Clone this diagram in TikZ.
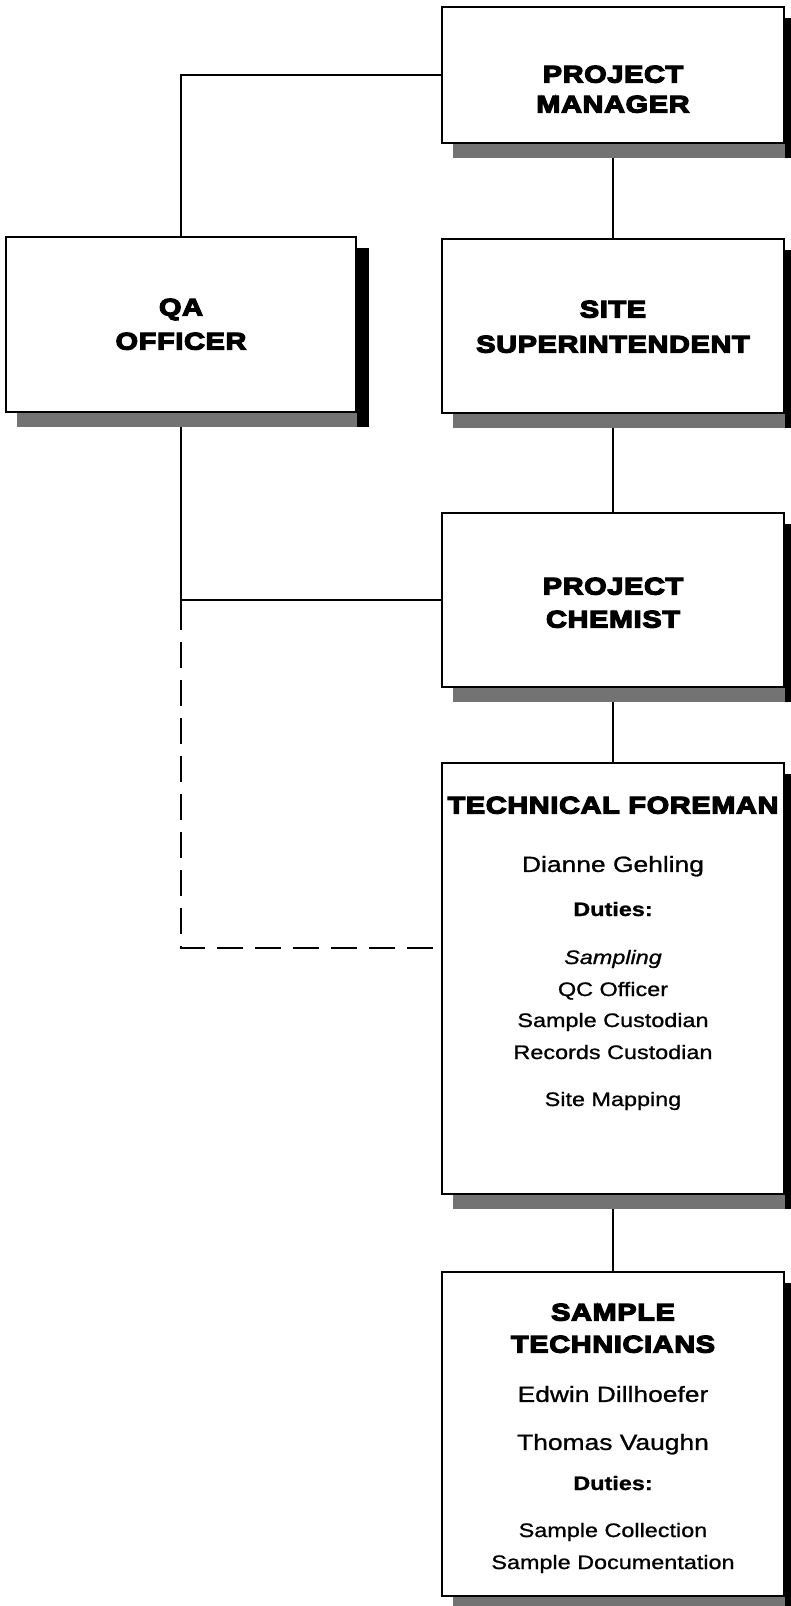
\documentclass[tikz,border=0pt]{standalone}
\usepackage{fontspec}
\setmainfont{Liberation Sans}
\newfontfamily\ttlfam{Liberation Sans}[FakeStretch=1.2, LetterSpace=3, BoldFeatures={FakeBold=5.5}]
\newfontfamily\bodyfam{Liberation Sans}[FakeStretch=1.2, FakeBold=1]
\usetikzlibrary{backgrounds}
\tikzset{
  orgbox/.style={draw=black, line width=2pt, fill=white, inner sep=0pt, minimum width=342pt},
  conn/.style={draw=black, line width=2.2pt},
  ttl/.style={font=\ttlfam\bfseries\fontsize{24}{28}\selectfont, inner sep=0pt, text height=17pt, text depth=0pt},
  bignm/.style={font=\bodyfam\fontsize{22}{26}\selectfont, inner sep=0pt, text height=15.8pt, text depth=0pt},
  dutyln/.style={font=\bodyfam\fontsize{19.5}{23}\selectfont, inner sep=0pt, text height=14pt, text depth=0pt},
  dutyhd/.style={font=\bodyfam\bfseries\fontsize{19.5}{23}\selectfont, inner sep=0pt, text height=14pt, text depth=0pt},
  shadegray/.style={fill=black!55},
}
\newcommand\boxshadow[1]{%
  \fill[shadegray] ([shift={(12,0)}]#1.south west) rectangle ([shift={(12,14)}]#1.south east);
  \fill[black] ([shift={(0,12)}]#1.north east) rectangle ([shift={(12,14)}]#1.south east);
}
\begin{document}
\begin{tikzpicture}[x=1pt,y=-1pt]
\useasboundingbox (0,0) rectangle (791,1606);

% boxes
\node[orgbox, minimum height=136pt] (pm) at (613,75) {};
\node[orgbox, minimum width=350pt, minimum height=175pt] (qa) at (181,324.5) {};
\node[orgbox, minimum height=174pt] (ss) at (613,326) {};
\node[orgbox, minimum height=174pt] (pc) at (613,600) {};
\node[orgbox, minimum height=431pt] (tf) at (613,978.5) {};
\node[orgbox, minimum height=324pt] (st) at (613,1434) {};

% titles
\node[ttl] (pmt1) at (613,74) {PROJECT};
\node[ttl] (pmt2) at (613,104) {MANAGER};
\node[ttl] (qat1) at (181,307) {QA};
\node[ttl] (qat2) at (181,341) {OFFICER};
\node[ttl] (sst1) at (613,309) {SITE};
\node[ttl] (sst2) at (613,344) {SUPERINTENDENT};
\node[ttl] (pct1) at (613,586) {PROJECT};
\node[ttl] (pct2) at (613,619) {CHEMIST};
\node[ttl] (tft1) at (613,805) {TECHNICAL FOREMAN};
\node[ttl] (stt1) at (613,1312) {SAMPLE};
\node[ttl] (stt2) at (613,1344) {TECHNICIANS};

% technical foreman contents
\node[bignm] (tfn) at (613,864) {Dianne Gehling};
\node[dutyhd] (tfd) at (613,909) {Duties:};
\node[dutyln] (tfl1) at (613,957) {\itshape Sampling};
\node[dutyln] (tfl2) at (613,989) {QC Officer};
\node[dutyln] (tfl3) at (613,1020) {Sample Custodian};
\node[dutyln] (tfl4) at (613,1052) {Records Custodian};
\node[dutyln] (tfl5) at (613,1099) {Site Mapping};

% sample technicians contents
\node[bignm] (stn1) at (613,1394) {Edwin Dillhoefer};
\node[bignm] (stn2) at (613,1442) {Thomas Vaughn};
\node[dutyhd] (std) at (613,1483) {Duties:};
\node[dutyln] (stl1) at (613,1530) {Sample Collection};
\node[dutyln] (stl2) at (613,1562) {Sample Documentation};

\coordinate (dstart) at (181,630);
\coordinate (dgap) at (181,642);
\coordinate (dcorner) at (181,948);

\begin{scope}[on background layer]
  \fill[white] (0,0) rectangle (791,1606);
  \draw[conn] (pm.west) -| (qa.north);
  \draw[conn] (pm.south) -- (ss.north);
  \draw[conn] (ss.south) -- (pc.north);
  \draw[conn] (pc.south) -- (tf.north);
  \draw[conn] (tf.south) -- (st.north);
  \draw[conn] (qa.south) -- (dstart);
  \draw[conn] (qa.south |- pc.west) -- (pc.west);
  \draw[conn, dash pattern=on 26pt off 12pt] (dgap) -- (dcorner) -- (tf.west |- dcorner);
  \boxshadow{pm}
  \boxshadow{qa}
  \boxshadow{ss}
  \boxshadow{pc}
  \boxshadow{tf}
  \boxshadow{st}
\end{scope}
\end{tikzpicture}
\end{document}
